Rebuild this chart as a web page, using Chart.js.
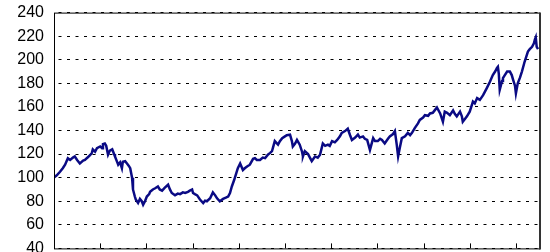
<!DOCTYPE html>
<html>
<head>
<meta charset="utf-8">
<script src="https://cdn.jsdelivr.net/npm/chart.js@4.4.0/dist/chart.umd.min.js"></script>
<style>
    html, body { margin: 0; padding: 0; background: #fff; overflow: hidden; }
    #wrap { width: 550px; height: 275px; margin-top: -7px; }
</style>
</head>
<body>
<div id="wrap"><canvas id="indexChart" width="550" height="275"></canvas></div>
<script>
// Index level (start = 100), x in years from the start of the series
const years = [
    0.00, 0.06, 0.13, 0.19, 0.24, 0.30, 0.35, 0.41, 0.45, 0.50,
    0.56, 0.63, 0.67, 0.71, 0.78, 0.82, 0.84, 0.89, 0.93, 1.00,
    1.04, 1.06, 1.10, 1.13, 1.17, 1.21, 1.26, 1.30, 1.32, 1.36,
    1.39, 1.43, 1.47, 1.49, 1.54, 1.58, 1.62, 1.65, 1.69, 1.71,
    1.75, 1.77, 1.82, 1.86, 1.90, 1.93, 1.97, 2.01, 2.06, 2.08,
    2.14, 2.19, 2.25, 2.29, 2.34, 2.40, 2.47, 2.51, 2.55, 2.62,
    2.68, 2.73, 2.79, 2.84, 2.90, 2.94, 2.99, 3.01, 3.05, 3.10,
    3.16, 3.23, 3.27, 3.31, 3.38, 3.44, 3.49, 3.53, 3.59, 3.66,
    3.72, 3.77, 3.81, 3.85, 3.90, 3.94, 3.98, 4.03, 4.09, 4.13,
    4.18, 4.24, 4.31, 4.35, 4.39, 4.46, 4.52, 4.57, 4.63, 4.68,
    4.72, 4.78, 4.85, 4.89, 4.94, 5.00, 5.04, 5.11, 5.15, 5.17,
    5.22, 5.26, 5.32, 5.37, 5.39, 5.43, 5.50, 5.54, 5.58, 5.65,
    5.71, 5.76, 5.82, 5.87, 5.93, 5.97, 6.02, 6.08, 6.13, 6.19,
    6.23, 6.30, 6.36, 6.41, 6.45, 6.52, 6.58, 6.62, 6.69, 6.73,
    6.78, 6.84, 6.91, 6.95, 7.01, 7.06, 7.10, 7.16, 7.23, 7.27,
    7.34, 7.38, 7.42, 7.45, 7.49, 7.53, 7.60, 7.66, 7.71, 7.75,
    7.81, 7.88, 7.92, 7.99, 8.03, 8.10, 8.14, 8.20, 8.25, 8.29,
    8.36, 8.42, 8.46, 8.51, 8.57, 8.64, 8.68, 8.72, 8.79, 8.83,
    8.85, 8.90, 8.94, 9.00, 9.07, 9.11, 9.16, 9.22, 9.29, 9.33,
    9.37, 9.44, 9.50, 9.55, 9.59, 9.61, 9.63, 9.65, 9.70, 9.72,
    9.76, 9.81, 9.87, 9.91, 9.94, 9.98, 10.00, 10.04, 10.09, 10.13,
    10.19, 10.26, 10.30, 10.35, 10.39, 10.41, 10.43, 10.45, 10.48
];

const indexValues = [
    100, 102, 105, 108, 111, 116.5, 115, 117, 118, 115,
    112, 114.5, 115, 116.5, 119, 121, 124, 122, 125, 126.5,
    125, 128.5, 129, 127, 119.5, 123, 124, 120, 118, 114,
    111, 113, 108, 113.5, 114, 112, 110, 108, 100, 90,
    84, 81.5, 78.5, 82, 80, 77, 80, 84, 86, 88,
    90, 91, 92.5, 90, 89, 91.5, 94, 90, 87, 85,
    86.5, 86, 87.5, 87, 88, 89, 90, 87, 86, 85,
    81.5, 78.5, 80.5, 80, 82.5, 87.5, 85, 82.5, 80, 82,
    83, 84, 87, 92.5, 98, 103, 108, 112, 106.5, 108,
    109.5, 111, 116, 116.5, 115, 115, 117, 116.5, 119.5, 121,
    122.5, 131, 128, 131, 133.5, 135, 136, 136.5, 131, 126.5,
    129, 132, 128, 122, 118, 122.5, 120, 117, 114, 118,
    117, 119.5, 129, 127, 128, 127, 131, 130, 132, 135,
    138, 139.5, 141.5, 136, 132, 134, 136.5, 134, 135, 133,
    132, 123.5, 133.5, 131, 131, 133, 132, 129, 133, 135,
    137, 139.5, 128, 118, 126, 133.5, 135, 138, 136, 138,
    142, 146, 149, 151, 153, 152.5, 154.5, 155, 157.5, 159.5,
    154.5, 147.5, 156, 155, 153, 157, 154, 152, 156, 152,
    147.5, 150, 152, 156, 164.5, 163, 167.5, 166, 170, 173,
    176, 181.5, 187, 190, 193, 194, 188, 174.5, 182, 184.5,
    187, 190, 190, 187, 183, 178, 171.5, 180, 185, 190,
    198.5, 207, 209, 211, 214, 217, 219, 211, 209
];

const Y_MIN = 40;
const Y_MAX = 240;
const Y_STEP = 20;
const X_MAX = 10.5;
const yearTicks = [1, 2, 3, 4, 5, 6, 7, 8, 9, 10];

const LINE_COLOR = '#0a0a84';
const FONT_FAMILY = "'Liberation Sans Narrow', 'Liberation Sans', Arial, sans-serif";

// box around the plot area plus short inward year ticks on the bottom axis
const framePlugin = {
    id: 'frame',
    afterDraw(chart) {
        const { ctx, chartArea: a, scales } = chart;
        ctx.save();
        ctx.strokeStyle = '#000';
        ctx.lineWidth = 1;
        ctx.strokeRect(a.left + 0.5, a.top + 0.5, a.right - a.left, a.bottom - a.top);
        ctx.strokeStyle = '#333';
        ctx.lineWidth = 2;
        ctx.beginPath();
        ctx.moveTo(a.right + 1, a.top);
        ctx.lineTo(a.right + 1, a.bottom + 1);
        ctx.stroke();
        ctx.strokeStyle = '#000';
        ctx.lineWidth = 1;
        yearTicks.forEach(v => {
            const x = Math.round(scales.x.getPixelForValue(v)) + 0.5;
            ctx.beginPath();
            ctx.moveTo(x, a.bottom);
            ctx.lineTo(x, a.bottom - 5);
            ctx.stroke();
        });
        ctx.restore();
    }
};

new Chart(document.getElementById('indexChart'), {
    type: 'line',
    data: {
        datasets: [{
            data: years.map((x, i) => ({ x, y: indexValues[i] })),
            borderColor: LINE_COLOR,
            borderWidth: 2.5,
            pointRadius: 0,
            tension: 0,
            fill: false
        }]
    },
    options: {
        responsive: false,
        animation: false,
        events: [],
        layout: { padding: { top: 4, right: 11, bottom: 0, left: 0 } },
        plugins: { legend: { display: false }, tooltip: { enabled: false } },
        scales: {
            x: {
                type: 'linear',
                min: 0,
                max: X_MAX,
                ticks: { display: false },
                grid: { display: false },
                border: { display: false }
            },
            y: {
                min: Y_MIN,
                max: Y_MAX,
                ticks: {
                    stepSize: Y_STEP,
                    padding: 10,
                    color: '#000',
                    font: { family: FONT_FAMILY, size: 16 }
                },
                grid: { color: '#000', lineWidth: 1, drawTicks: false },
                border: { display: false, dash: [3, 5.5], dashOffset: 4 },
                afterFit(scale) { scale.width = 54; }
            }
        }
    },
    plugins: [framePlugin]
});
</script>
</body>
</html>
